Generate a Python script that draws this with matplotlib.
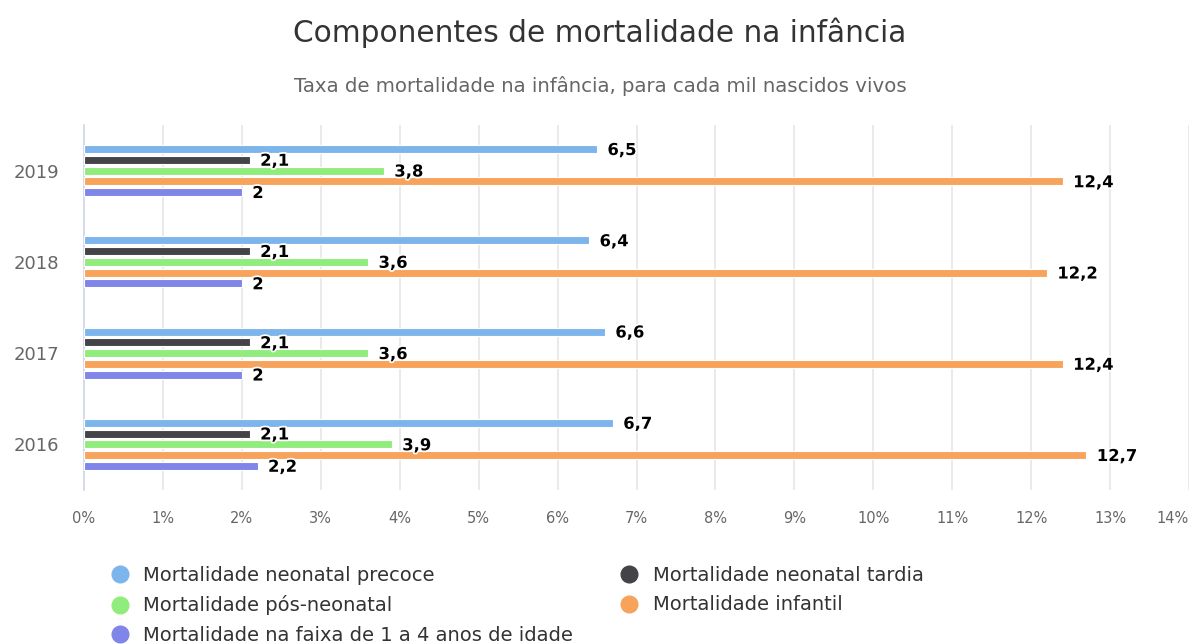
import matplotlib
matplotlib.use("Agg")
import matplotlib.pyplot as plt
import matplotlib.patheffects as pe
from matplotlib.lines import Line2D
import numpy as np

plt.rcParams['font.family'] = ['DejaVu Sans']

years = ["2019", "2018", "2017", "2016"]
series_names = [
    "Mortalidade neonatal precoce",
    "Mortalidade neonatal tardia",
    "Mortalidade pós-neonatal",
    "Mortalidade infantil",
    "Mortalidade na faixa de 1 a 4 anos de idade",
]
neonatal_precoce = [6.5, 6.4, 6.6, 6.7]
neonatal_tardia = [2.1, 2.1, 2.1, 2.1]
pos_neonatal = [3.8, 3.6, 3.6, 3.9]
infantil = [12.4, 12.2, 12.4, 12.7]
faixa_1_4 = [2, 2, 2, 2.2]
series_values = [neonatal_precoce, neonatal_tardia, pos_neonatal, infantil, faixa_1_4]
colors = ["#7cb5ec", "#434348", "#90ed7d", "#f7a35c", "#8085e9"]
x_ticks = list(range(0, 15))
x_ticklabels = [f"{t}%" for t in x_ticks]

W, H = 1189, 644
fig = plt.figure(figsize=(W / 100, H / 100), dpi=100)
ax = fig.add_axes([84 / W, 1 - 490 / H, (W - 84) / W, (490 - 125) / H])

n_cat = len(years)
ypos = np.arange(n_cat)[::-1]  # 2019 at top
spacing = 0.118
bar_h = 0.088
for i, (vals, c) in enumerate(zip(series_values, colors)):
    off = (2 - i) * spacing
    ax.barh(ypos + off, vals, height=bar_h, color=c, edgecolor='white', linewidth=0.8, zorder=3)
    for y, v in zip(ypos + off, vals):
        lbl = f"{v:g}".replace('.', ',')
        ax.annotate(lbl, (v, y), xytext=(7.5, -1), textcoords='offset points',
                    ha='left', va='center', fontsize=11.8, fontweight='bold', color='black',
                    path_effects=[pe.withStroke(linewidth=2.5, foreground='white')], zorder=5)

ax.set_xlim(0, 14)
ax.set_ylim(-0.5, n_cat - 0.5)
ax.set_yticks(ypos)
ax.set_yticklabels(years, fontsize=13, color='#666666')
ax.set_xticks(x_ticks)
ax.set_xticklabels(x_ticklabels, fontsize=10.5, color='#666666')
ax.get_xticklabels()[-1].set_ha('right')
ax.tick_params(axis='y', length=0, pad=18)
ax.tick_params(axis='x', length=0, pad=15)
ax.grid(axis='x', color='#e6e6e6', linewidth=1.2, zorder=0)
for s in ['top', 'right', 'bottom']:
    ax.spines[s].set_visible(False)
ax.spines['left'].set_color('#ccd6eb')
ax.spines['left'].set_linewidth(1.2)

fig.text(600 / W, 1 - 33 / H, "Componentes de mortalidade na infância", ha='center', va='center',
         fontsize=21.3, color='#333333')
fig.text(600 / W, 1 - 86 / H, "Taxa de mortalidade na infância, para cada mil nascidos vivos",
         ha='center', va='center', fontsize=14.2, color='#666666')

handles = [Line2D([], [], marker='o', linestyle='', markersize=12, color=c) for c in colors]
order = [0, 2, 4, 1, 3]
leg = fig.legend([handles[i] for i in order], [series_names[i] for i in order], ncol=2,
                 loc='upper left', bbox_to_anchor=(110 / W, 1 - 566 / H), frameon=False,
                 fontsize=14, handletextpad=0.7, columnspacing=2.4, labelspacing=0.53,
                 handlelength=1.0, borderaxespad=0, borderpad=0)
for t in leg.get_texts():
    t.set_color('#333333')

fig.savefig("out.png", dpi=100)
